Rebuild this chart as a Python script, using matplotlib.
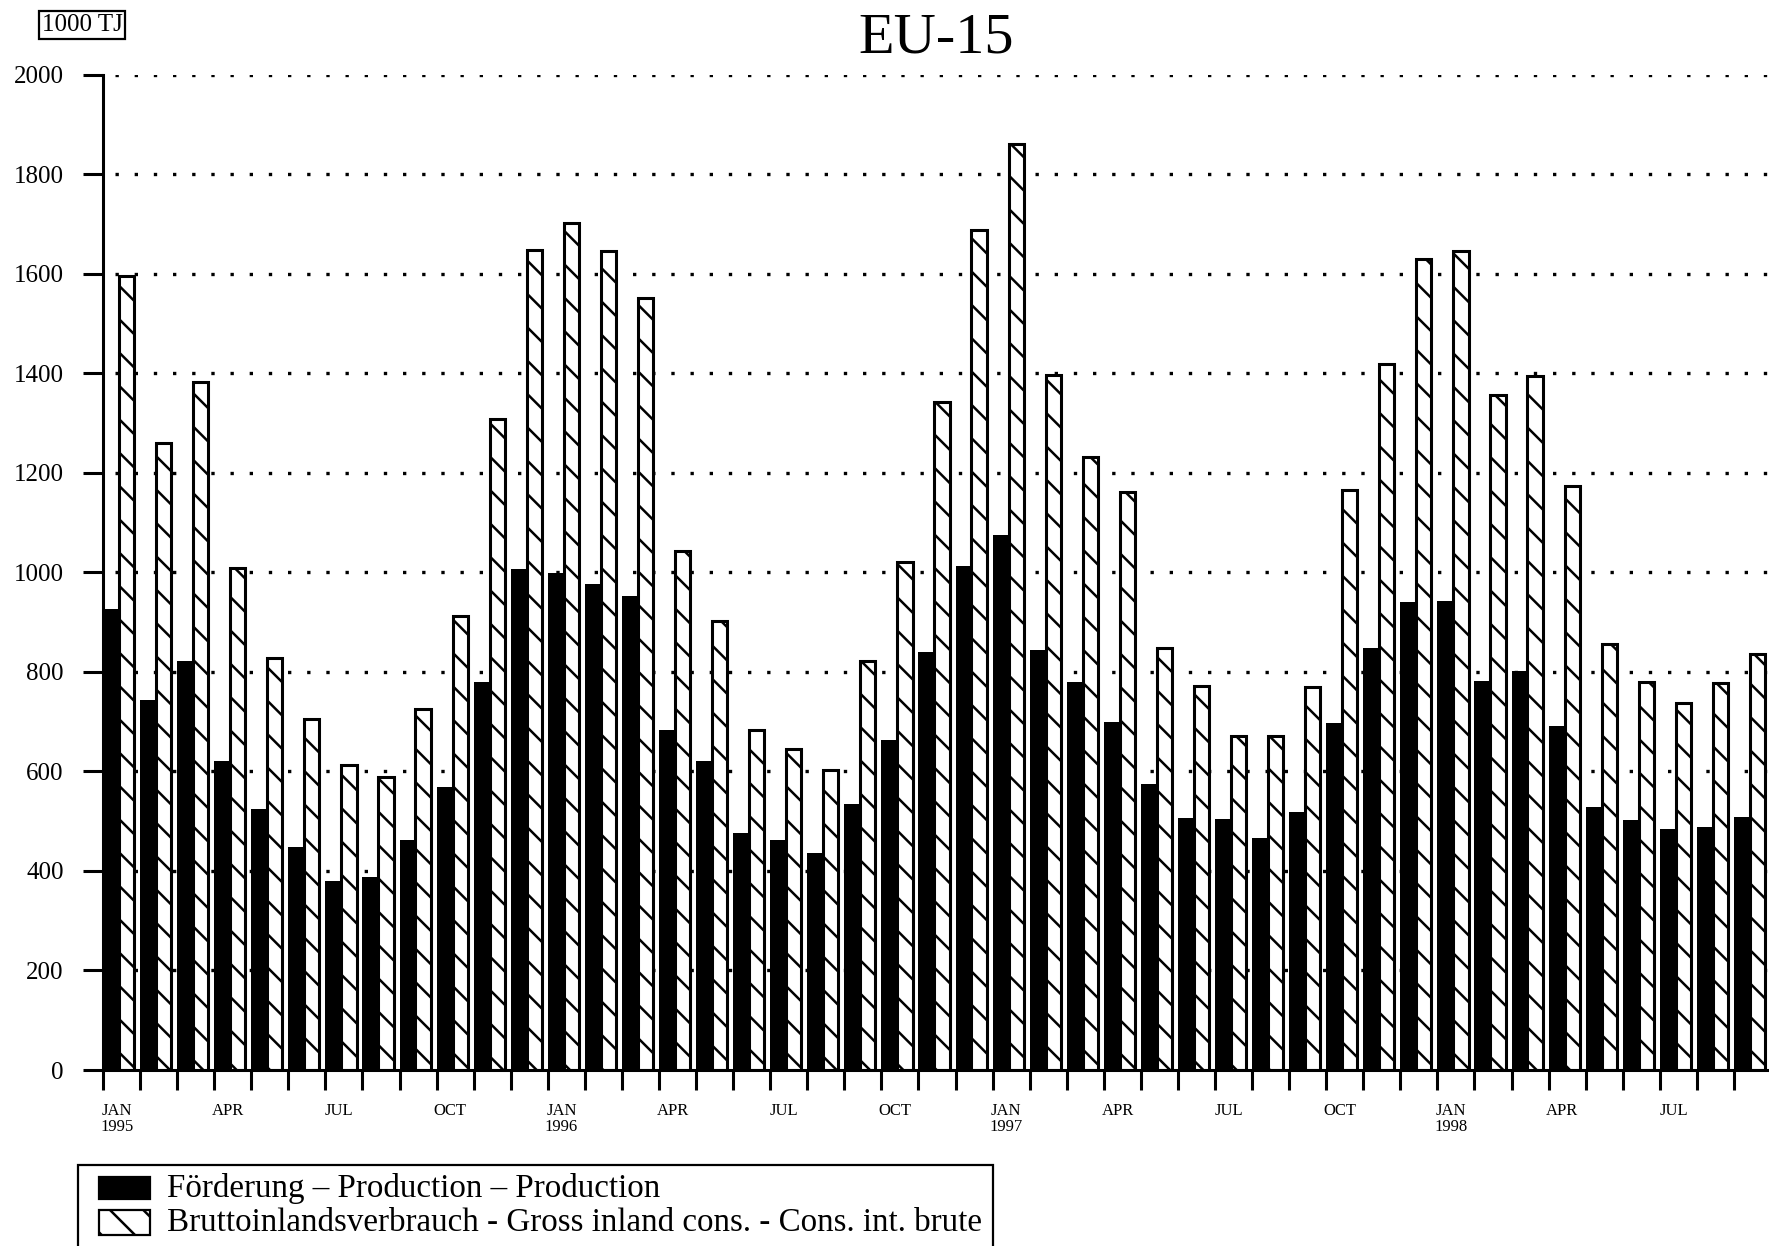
import numpy as np
import matplotlib
matplotlib.use("Agg")
import matplotlib.pyplot as plt
from matplotlib.patches import Rectangle

# monthly values, 1000 TJ, JAN 1995 .. SEP 1998
production = [927, 744, 821, 620, 525, 448, 379, 388, 463, 568, 779, 1006,
              998, 977, 953, 683, 620, 477, 462, 437, 534, 664, 840, 1013,
              1076, 844, 779, 700, 575, 506, 505, 467, 518, 697, 847, 940,
              943, 782, 802, 691, 529, 503, 484, 489, 509]
consumption = [1595, 1259, 1382, 1009, 828, 705, 612, 588, 725, 912, 1308, 1648,
               1703, 1645, 1551, 1043, 902, 683, 645, 603, 821, 1021, 1343, 1687,
               1861, 1396, 1232, 1161, 847, 771, 672, 672, 769, 1165, 1418, 1629,
               1646, 1356, 1394, 1173, 856, 779, 737, 777, 836]
month_labels = ["JAN\n1995", "APR", "JUL", "OCT",
                "JAN\n1996", "APR", "JUL", "OCT",
                "JAN\n1997", "APR", "JUL", "OCT",
                "JAN\n1998", "APR", "JUL"]
label_months = [0, 3, 6, 9, 12, 15, 18, 21, 24, 27, 30, 33, 36, 39, 42]
y_ticks = [0, 200, 400, 600, 800, 1000, 1200, 1400, 1600, 1800, 2000]
legend_labels = ["Förderung – Production – Production",
                 "Bruttoinlandsverbrauch - Gross inland cons. - Cons. int. brute"]

plt.rcParams['font.family'] = ['Liberation Serif', 'DejaVu Serif']
plt.rcParams['lines.scale_dashes'] = False
plt.rcParams['hatch.linewidth'] = 0.9

W, H = 1769, 1246
# dpi 200 + double backslash -> hatch lines about 33 px apart, like the scan
fig = plt.figure(figsize=(W / 200, H / 200), dpi=200)
ax = fig.add_axes([0.05823, 0.14125, 0.94291, 0.79880])

x = np.arange(len(production))
ax.bar(x, production, width=0.43, align='edge', color='black',
       linewidth=0, zorder=2)
ax.bar(x + 0.43, consumption, width=0.41, align='edge', color='white',
       edgecolor='black', hatch='\\\\', linewidth=1.1, zorder=2)

# dotted grid
for v in y_ticks[1:]:
    ax.axhline(v, xmin=0.007, xmax=1, color='black', lw=1.2,
               dashes=(1.2, 5.7), zorder=1)

ax.set_xlim(0, 45)
ax.set_ylim(0, 2000)
ax.set_yticks(y_ticks)
ax.tick_params(axis='y', direction='out', length=7.2, width=1.1, pad=7,
               labelsize=9)

ax.set_xticks(np.arange(0, 46))
ax.set_xticklabels([])
ax.tick_params(axis='x', which='major', direction='out', length=7.2, width=1.1)
ax.set_xticks(np.array(label_months) + 0.37, minor=True)
ax.set_xticklabels(month_labels, minor=True)
ax.tick_params(axis='x', which='minor', length=0, pad=12, labelsize=6)
for lab in ax.get_xticklabels(minor=True):
    lab.set_linespacing(1.0)

ax.spines['top'].set_visible(False)
ax.spines['right'].set_visible(False)
ax.spines['left'].set_linewidth(1.1)
ax.spines['bottom'].set_linewidth(1.1)

fig.text(0.529, 0.9575, "EU-15", ha='center', va='baseline', fontsize=21)
fig.text(82 / W, 1 - 25 / H, "1000 TJ", ha='center', va='center', fontsize=9,
         bbox=dict(boxstyle='square,pad=0.12', fc='white', ec='black', lw=0.8))


def fx(px):
    return px / W


def fy(py):
    return 1 - py / H


# legend, box runs off the bottom of the page like the scan
fig.add_artist(Rectangle((fx(78), -0.05), fx(993) - fx(78), fy(1165) + 0.05,
                         transform=fig.transFigure, fill=False,
                         ec='black', lw=0.8, clip_on=False))
fig.add_artist(Rectangle((fx(99), fy(1199)), fx(150) - fx(99), fy(1177) - fy(1199),
                         transform=fig.transFigure, fc='black', ec='black', lw=0.8))
fig.add_artist(Rectangle((fx(99), fy(1235)), fx(150) - fx(99), fy(1210) - fy(1235),
                         transform=fig.transFigure, fc='white', ec='black',
                         hatch='\\\\', lw=0.8))
fig.text(fx(167), fy(1189), legend_labels[0], ha='left', va='center',
         fontsize=11.9)
fig.text(fx(167), fy(1223), legend_labels[1], ha='left', va='center',
         fontsize=11.9)

fig.savefig("out.png", dpi=200)
